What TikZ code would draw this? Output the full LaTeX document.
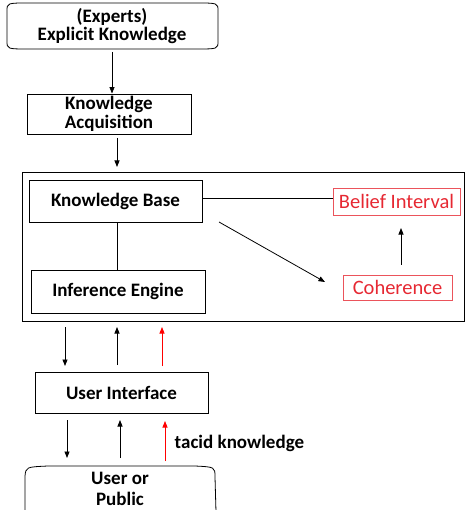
\documentclass[tikz,border=0pt]{standalone}
\usepackage{fontspec}
\setmainfont{Carlito}
\usetikzlibrary{arrows.meta}
\definecolor{beliefred}{RGB}{230,40,50}
\tikzset{
  box/.style={draw, line width=0.9pt, font=\fontsize{19}{19}\selectfont\bfseries, align=center, inner sep=0pt},
  redbox/.style={draw=beliefred!80, line width=0.9pt, text=beliefred, font=\fontsize{20.5}{20}\selectfont, inner sep=0pt},
  arr/.style={-{Triangle[length=6.5pt,width=5pt]}, line width=0.8pt},
  redarr/.style={arr, red}
}
\begin{document}
\begin{tikzpicture}[x=1pt, y=-1pt]
    \useasboundingbox (0,0) rectangle (465,510);

    % terminators
    \draw[line width=0.8pt] (29,3) -- (196,3) .. controls (218,3) .. (218,11) -- (218,41)
      .. controls (218,49) .. (196,49) -- (29,49) .. controls (7,49) .. (7,41) -- (7,11)
      .. controls (7,3) .. (29,3);
    \node[font=\fontsize{19}{18}\selectfont\bfseries, align=center] (exp) at (112,26) {(Experts)\\Explicit Knowledge};

    \draw[line width=0.8pt] (216,512) -- (215,477) .. controls (215,467) .. (195,466) -- (48,466)
      .. controls (26,467) .. (25,476) -- (25,512);
    \node[font=\fontsize{19}{21}\selectfont\bfseries, align=center] (user) at (120,489) {User or\\Public};

    % boxes
    \node[box, minimum width=164, minimum height=40] (ka) at (109,114) {Knowledge\\Acquisition};
    \draw[line width=0.9pt] (22,172) rectangle (464,321);
    \node[box, minimum width=173, minimum height=42] (kb) at (115.5,201) {Knowledge Base};
    \node[box, minimum width=174, minimum height=43] (ie) at (118,291.5) {Inference Engine};
    \node[redbox, minimum width=127, minimum height=27] (bi) at (396.5,201.5) {Belief Interval};
    \node[redbox, minimum width=109, minimum height=25] (coh) at (397.5,287.5) {Coherence};
    \node[box, minimum width=173, minimum height=41] (ui) at (121.5,392.5) {User Interface};

    % connectors
    \draw[arr] (112,52) -- (ka.north -| 112,0);
    \draw[arr] (117,138) -- (117,167);
    \draw[line width=0.8pt] (kb.east |- 0,198) -- (bi.west |- 0,198);
    \draw[line width=0.8pt] (kb.south -| 117,0) -- (ie.north -| 117,0);
    \draw[arr] (219,222) -- (325,282);
    \draw[arr] (coh.north -| 401,0) ++(0,-10) -- (401,228);

    \draw[arr] (65,327) -- (65,366);
    \draw[arr] (117,365) -- (117,327);
    \draw[redarr] (162,366) -- (162,327);

    \draw[arr] (67,420) -- (67,458);
    \draw[arr] (120,458) -- (120,420);
    \draw[redarr] (165,461) -- (165,421) node[pos=0.45, right=6pt, black, font=\fontsize{19}{19}\selectfont\bfseries] (tac) {tacid knowledge};
\end{tikzpicture}
\end{document}
